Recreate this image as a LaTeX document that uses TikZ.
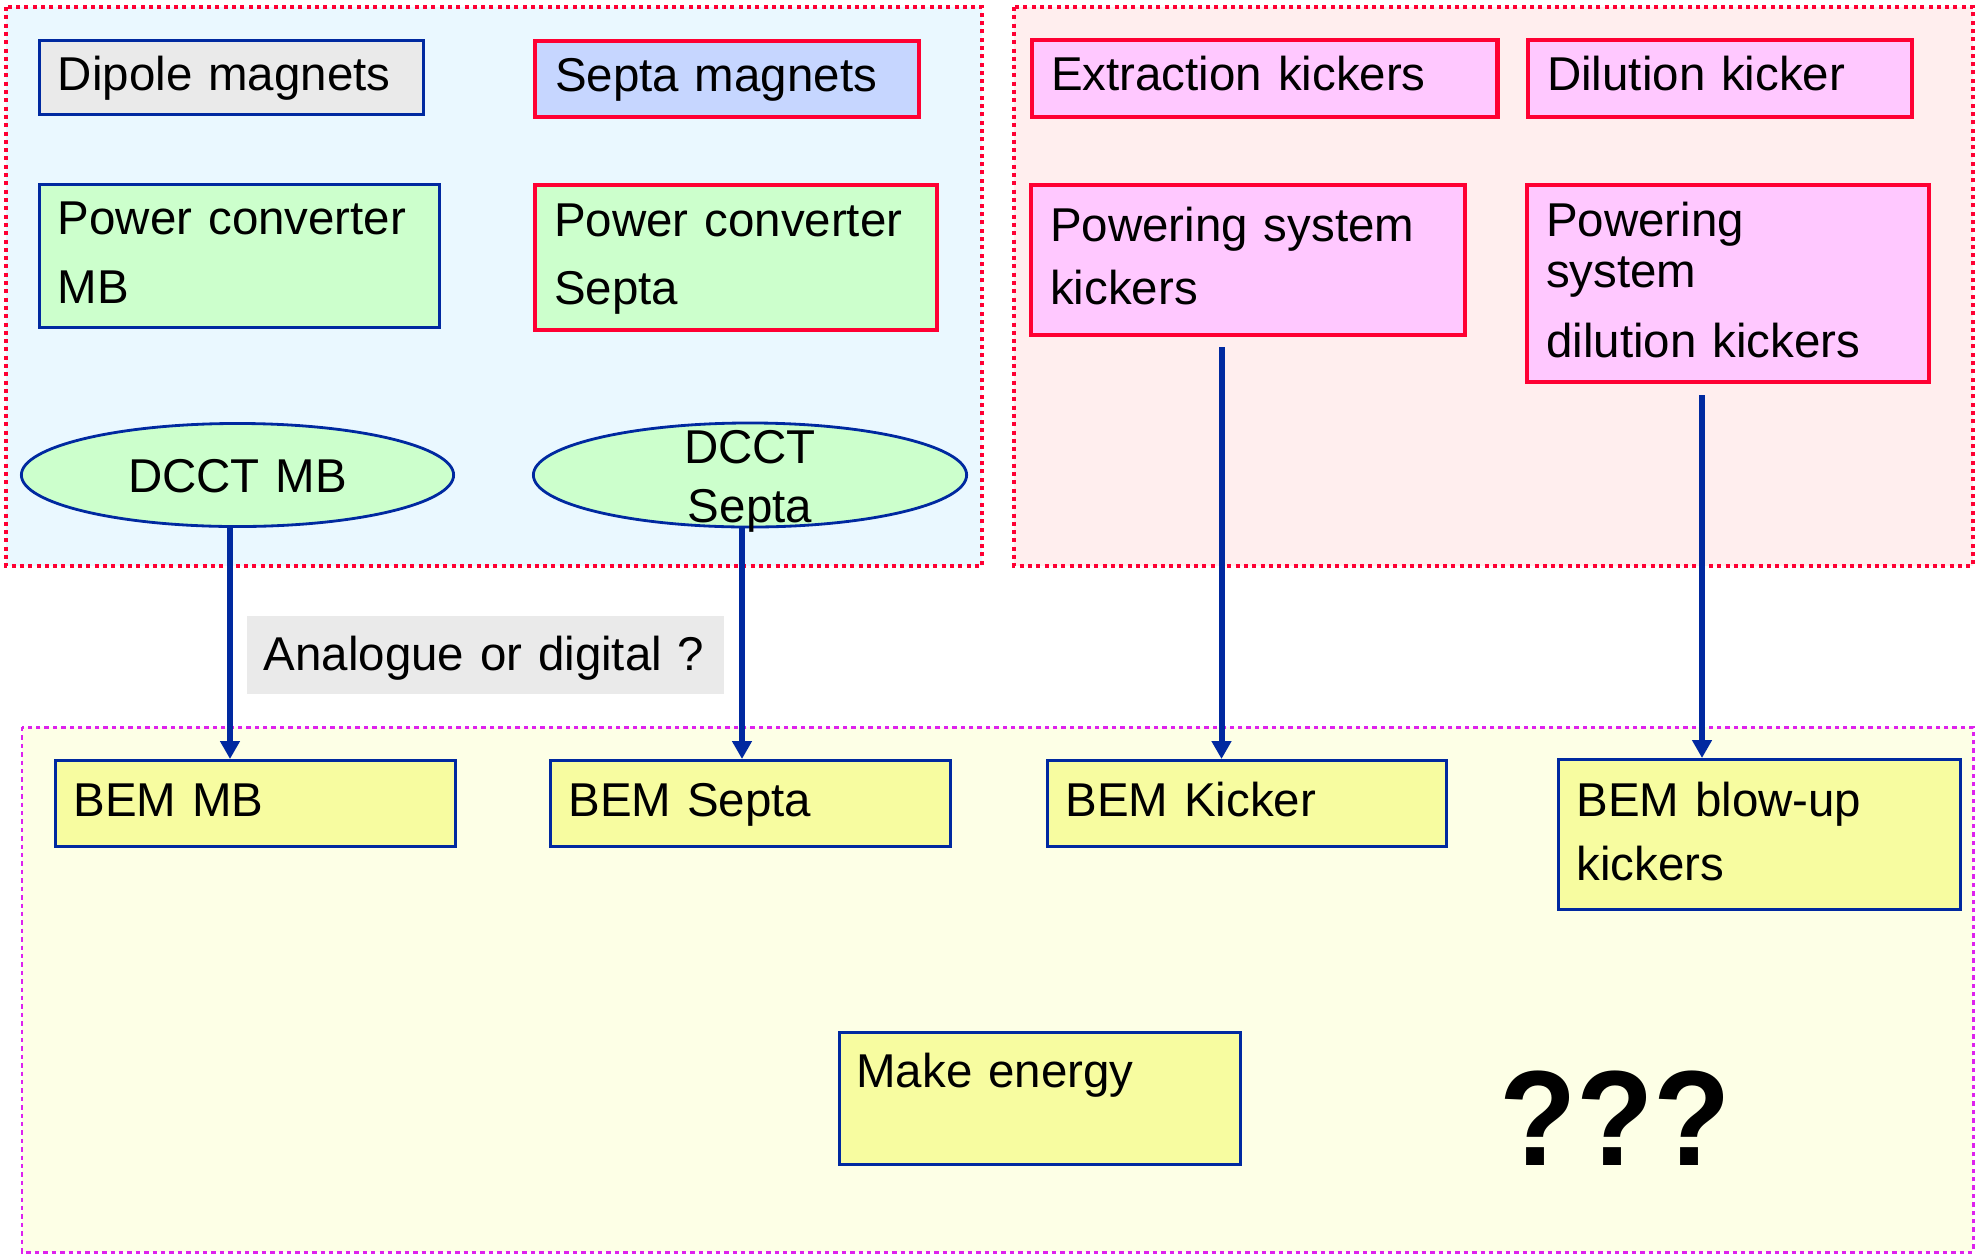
\documentclass[tikz,border=0pt]{standalone}
\usepackage{fontspec}
\setmainfont{Liberation Sans}
\usetikzlibrary{arrows.meta,shapes.geometric}
\definecolor{bluebg}{HTML}{EAF8FF}
\definecolor{pinkbg}{HTML}{FFEEEE}
\definecolor{yellowbg}{HTML}{FDFFE6}
\definecolor{grayfill}{HTML}{EAEAEA}
\definecolor{greenfill}{HTML}{CCFFCC}
\definecolor{lbluefill}{HTML}{C6D6FF}
\definecolor{pinkfill}{HTML}{FFC8FF}
\definecolor{yellowfill}{HTML}{F7FCA0}
\definecolor{dblue}{HTML}{0029A0}
\definecolor{myred}{HTML}{FF0033}
\definecolor{mymag}{HTML}{DD22EE}
\tikzset{
  reddot/.style={draw=myred, line width=1.15pt, dash pattern=on 0.04cm off 0.043cm},
  magdot/.style={draw=mymag, line width=0.85pt, dash pattern=on 0.044cm off 0.040cm},
  boxbase/.style={font=\fontsize{13.5}{16.2}\selectfont, inner sep=0pt, anchor=north west, align=left},
  bluebox/.style={boxbase, draw=dblue, line width=0.8pt},
  redbox/.style={boxbase, draw=myred, line width=1.2pt},
  plainbox/.style={boxbase},
  oval/.style={ellipse, draw=dblue, line width=0.8pt, fill=greenfill, inner sep=0pt, align=center, text width=2.5cm},
  arr/.style={draw=dblue, line width=1.7pt, -{Triangle[length=0.18cm, width=0.19cm]}},
  qmarks/.style={font=\fontsize{36}{36}\selectfont\bfseries, inner sep=0pt, anchor=base}
}
\begin{document}
\begin{tikzpicture}[x=0.01cm,y=-0.01cm]
\useasboundingbox (0,0) rectangle (1976,1254);
\fill[white] (0,0) rectangle (1976,1254);
% regions
\draw[reddot, fill=bluebg] (6,7) rectangle (982,566);
\draw[reddot, fill=pinkbg] (1014,7) rectangle (1973,566);
\draw[magdot, fill=yellowbg] (22,727) rectangle (1973,1252);

% top left
\node[bluebox, fill=grayfill, minimum width=3.84cm, text width=3.84cm, text height=0.50cm, text depth=0.24cm] (dip) at (38,39) {\leftskip=0.185cm Dipole magnets\par};
\node[redbox, fill=lbluefill, minimum width=3.84cm, text width=3.84cm, text height=0.50cm, text depth=0.26cm] (septm) at (533,39) {\leftskip=0.2cm Septa magnets\par};
\node[bluebox, fill=greenfill, minimum width=4.00cm, text width=4.00cm, text height=0.50cm, text depth=0.93cm, font=\fontsize{13.5}{19.63}\selectfont] (pcmb) at (38,183) {\leftskip=0.185cm Power converter\\MB\par};
\node[redbox, fill=greenfill, minimum width=4.02cm, text width=4.02cm, text height=0.51cm, text depth=0.94cm, font=\fontsize{13.5}{19.35}\selectfont] (pcs) at (533,183) {\leftskip=0.19cm Power converter\\Septa\par};
\node[oval, minimum width=4.32cm, minimum height=1.03cm, text height=0.35cm, text depth=0cm, font=\fontsize{13.5}{16.2}\selectfont] (dcctmb) at (237.5,475) {DCCT MB};
\node[oval, minimum width=4.33cm, minimum height=1.04cm, text height=0.10cm, text depth=0.34cm, font=\fontsize{13.5}{16.79}\selectfont] (dccts) at (750,475) {DCCT\\Septa};

% top right
\node[redbox, fill=pinkfill, minimum width=4.65cm, text width=4.65cm, text height=0.50cm, text depth=0.27cm] (ek) at (1030,38) {\leftskip=0.19cm Extraction kickers\par};
\node[redbox, fill=pinkfill, minimum width=3.84cm, text width=3.84cm, text height=0.50cm, text depth=0.27cm] (dk) at (1526,38) {\leftskip=0.19cm Dilution kicker\par};
\node[redbox, fill=pinkfill, minimum width=4.34cm, text width=4.34cm, text height=0.56cm, text depth=0.94cm, font=\fontsize{13.5}{17.93}\selectfont] (psk) at (1029,183) {\leftskip=0.19cm Powering system\\kickers\par};
\node[redbox, fill=pinkfill, minimum width=4.02cm, text width=4.02cm, text height=0.51cm, text depth=1.46cm, font=\fontsize{13.5}{14.51}\selectfont] (psdk) at (1525,183) {\leftskip=0.19cm Powering\\system\\[0.19cm]dilution kickers\par};

% middle label
\node[plainbox, fill=grayfill, minimum width=4.77cm, text width=4.77cm, text height=0.55cm, text depth=0.23cm] (ana) at (246,615) {\leftskip=0.17cm Analogue or digital ?\par};

% bottom
\node[bluebox, fill=yellowfill, minimum width=4.00cm, text width=4.00cm, text height=0.56cm, text depth=0.30cm] (bemmb) at (54,759) {\leftskip=0.18cm BEM MB\par};
\node[bluebox, fill=yellowfill, minimum width=4.00cm, text width=4.00cm, text height=0.56cm, text depth=0.30cm] (bems) at (549,759) {\leftskip=0.18cm BEM Septa\par};
\node[bluebox, fill=yellowfill, minimum width=3.99cm, text width=3.99cm, text height=0.56cm, text depth=0.30cm] (bemk) at (1046,759) {\leftskip=0.18cm BEM Kicker\par};
\node[bluebox, fill=yellowfill, minimum width=4.02cm, text width=4.02cm, text height=0.57cm, text depth=0.93cm, font=\fontsize{13.5}{18.21}\selectfont] (bembu) at (1557,758) {\leftskip=0.18cm BEM blow-up\\kickers\par};
\node[bluebox, fill=yellowfill, minimum width=4.01cm, text width=4.01cm, text height=0.55cm, text depth=0.77cm] (make) at (838,1031) {\leftskip=0.17cm Make energy\par};
\node[qmarks] (qqq) at (1615,1165) {\scalebox{1}[1.07]{???}};

% connectors
\coordinate (xa) at (230,0);
\coordinate (xb) at (742,0);
\coordinate (xc) at (1221.5,0);
\coordinate (xd) at (1702,0);
\draw[arr] (dcctmb.south -| xa) -- (bemmb.north -| xa);
\draw[arr] (dccts.south -| xb) -- (bems.north -| xb);
\draw[arr, shorten <=0.1cm] (psk.south -| xc) -- (bemk.north -| xc);
\draw[arr, shorten <=0.11cm] (psdk.south -| xd) -- (bembu.north -| xd);
\end{tikzpicture}
\end{document}
